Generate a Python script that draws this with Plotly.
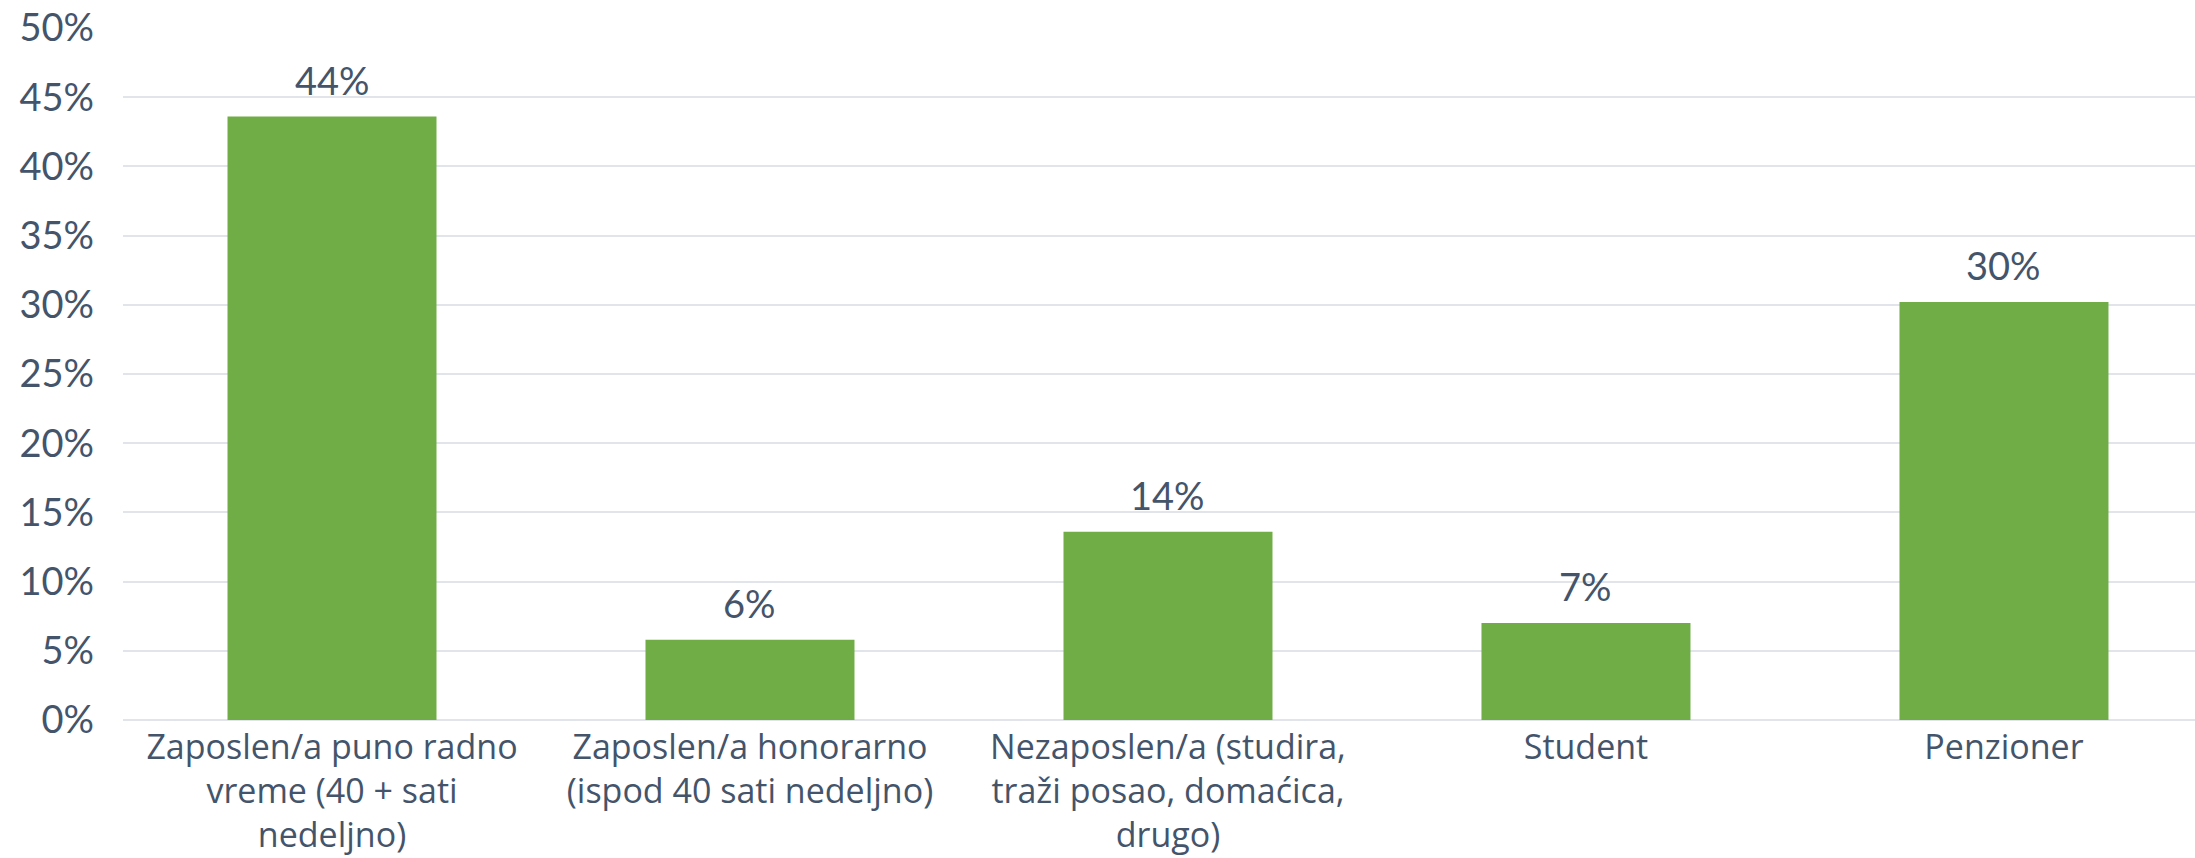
import plotly.graph_objects as go

# Employment status shares (percent)
categories = [
    "Zaposlen/a puno radno<br>vreme (40 + sati<br>nedeljno)",
    "Zaposlen/a honorarno<br>(ispod 40 sati nedeljno)",
    "Nezaposlen/a (studira,<br>traži posao, domaćica,<br>drugo)",
    "Student",
    "Penzioner",
]
shares = [43.6, 5.8, 13.6, 7.0, 30.2]
y_ticks = [0, 5, 10, 15, 20, 25, 30, 35, 40, 45, 50]
y_tick_labels = [f"{v}%" for v in y_ticks]

TEXT = "#44546a"
GRID = "#e1e4ea"
positions = list(range(len(categories)))

fig = go.Figure(
    go.Bar(
        x=positions,
        y=shares,
        width=0.5,
        marker=dict(color="#70ad47", line=dict(width=0)),
        hoverinfo="skip",
    )
)

for x, v in zip(positions, shares):
    fig.add_annotation(
        x=x, y=v, text=f"{v:.0f}%", showarrow=False,
        yanchor="bottom", yshift=12,
        font=dict(family="Lato", size=38, color=TEXT),
    )

fig.update_layout(
    width=2195,
    height=858,
    margin=dict(l=123, r=0, t=28, b=138),
    plot_bgcolor="white",
    paper_bgcolor="white",
    showlegend=False,
    bargap=0.5,
    xaxis=dict(
        range=[-0.5, 4.457],
        tickmode="array",
        tickvals=positions,
        ticktext=categories,
        showgrid=False,
        zeroline=False,
        showline=False,
        ticks="",
        ticklabelstandoff=4,
        tickfont=dict(family="Open Sans", size=34, color=TEXT),
    ),
    yaxis=dict(
        range=[0, 50],
        tickmode="array",
        tickvals=y_ticks,
        ticktext=y_tick_labels,
        showgrid=True,
        gridcolor=GRID,
        gridwidth=1.5,
        zeroline=True,
        zerolinecolor=GRID,
        zerolinewidth=1.5,
        showline=False,
        ticks="",
        ticklabelstandoff=28,
        tickfont=dict(family="Lato", size=38, color=TEXT),
    ),
)

fig.write_html("out.html")
